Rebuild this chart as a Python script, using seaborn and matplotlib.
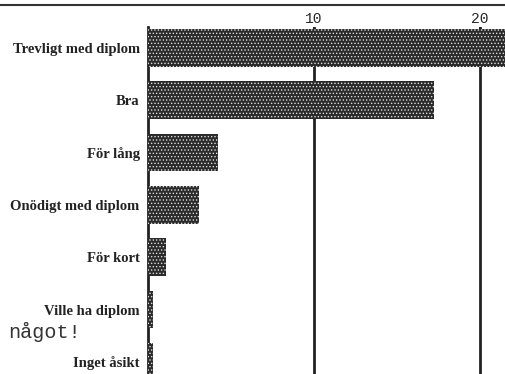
import matplotlib
matplotlib.use("Agg")
import matplotlib.pyplot as plt
import seaborn as sns
import pandas as pd

categories = ["Trevligt med diplom", "Bra", "För lång", "Onödigt med diplom",
              "För kort", "Ville ha diplom", "Inget åsikt"]
values = [22, 17.2, 4.2, 3.1, 1.1, 0.3, 0.3]
tick_values = [10, 20]
tick_labels = ["10", "20"]

sns.set_style("white")
plt.rcParams["hatch.color"] = "#dddddd"
plt.rcParams["hatch.linewidth"] = 0.6

df = pd.DataFrame({"cat": categories, "val": values})

fig = plt.figure(figsize=(5.06, 3.74), dpi=100)
ax = fig.add_axes([148 / 506, 0.0, 1 - 148 / 506, 1 - 27 / 374])

sns.barplot(data=df, x="val", y="cat", orient="h", color="#2a2a2a",
            width=0.72, saturation=1, ax=ax, zorder=3)
for p in ax.patches:
    p.set_hatch(".....")
    p.set_edgecolor("#dddddd")
    p.set_linewidth(0)

ax.set_xlim(0, (506 - 148) / 16.6)
ax.set_ylim(6.23, -0.4)

for sp in ["top", "right", "bottom"]:
    ax.spines[sp].set_visible(False)
ax.spines["left"].set_color("#222222")
ax.spines["left"].set_linewidth(2)
ax.spines["left"].set_zorder(1)

ax.xaxis.tick_top()
ax.set_xticks(tick_values)
ax.set_xticklabels(tick_labels, fontfamily="Liberation Mono", fontsize=10.5)
ax.tick_params(axis="x", direction="in", length=5, width=1.5, color="#222222", pad=1)
ax.grid(axis="x", color="#222222", linewidth=2, zorder=1)
ax.set_axisbelow(True)

ax.set_yticks(range(len(categories)))
ax.set_yticklabels(categories, fontfamily="Liberation Serif", fontweight="bold",
                   fontsize=10.5, color="#222222")
ax.tick_params(axis="y", length=0, pad=6)
ax.set_xlabel("")
ax.set_ylabel("")

fig.add_artist(plt.Line2D([0, 1], [1 - 5 / 374, 1 - 5 / 374], color="#333333",
                          linewidth=1.5, transform=fig.transFigure))
fig.text(8 / 506, 1 - 332 / 374, "något!", fontfamily="Liberation Mono",
         fontsize=14.5, color="#333333", va="center", ha="left")

fig.savefig("out.png", dpi=100)
